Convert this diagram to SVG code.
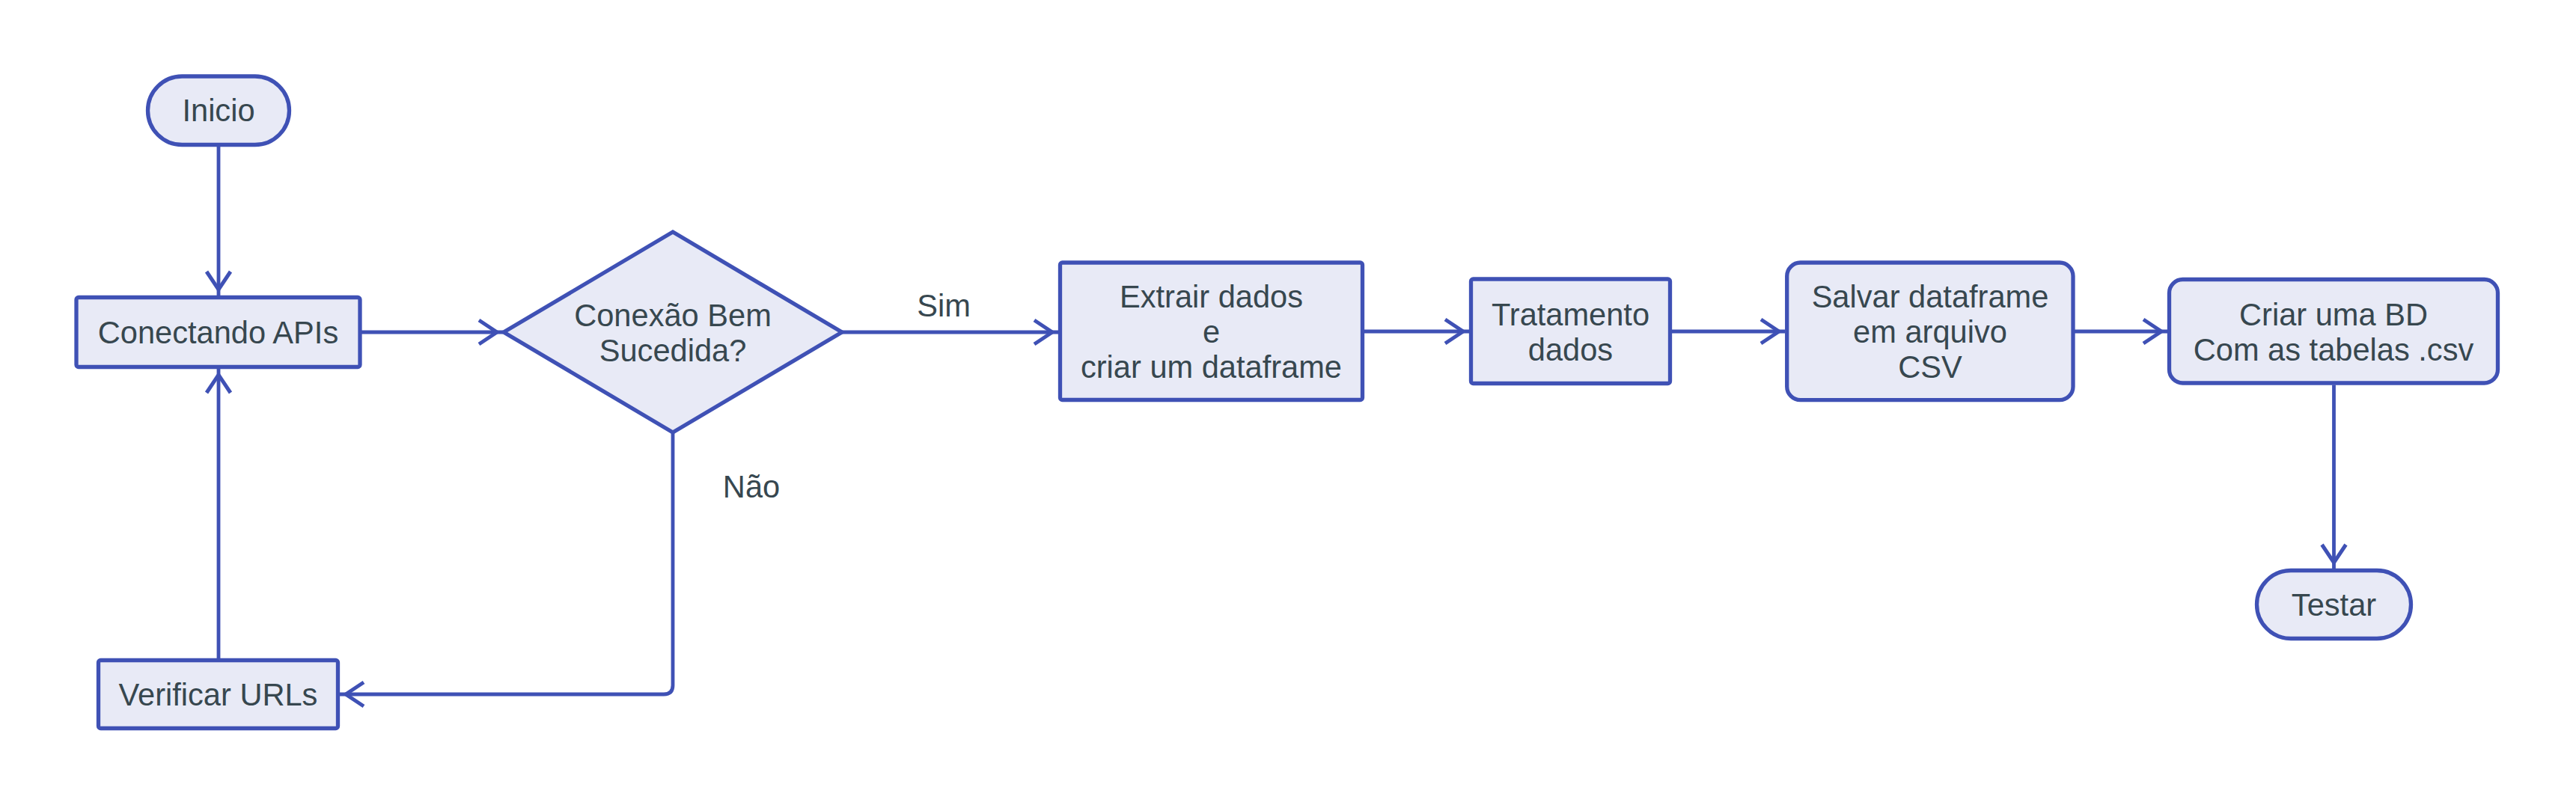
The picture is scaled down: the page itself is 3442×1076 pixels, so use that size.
<svg xmlns="http://www.w3.org/2000/svg" width="3442" height="1076" viewBox="0 0 3442 1076">
<style>
.node{fill:#e8eaf6;stroke:#3f51b5;stroke-width:5.3}
.lbl{font-family:"Liberation Sans",Arial,sans-serif;font-size:41.6px;fill:#37474f;text-anchor:middle}
.edge{fill:none;stroke:#3f51b5;stroke-width:4.8}
</style>
<defs>
<marker id="arr" markerUnits="userSpaceOnUse" markerWidth="44" markerHeight="44" viewBox="-4 -6 44 44" refX="32" refY="16" orient="auto" overflow="visible">
<path d="M0,0 L24,16 L0,32" fill="none" stroke="#3f51b5" stroke-width="5"/>
</marker>
</defs>
<rect width="3442" height="1076" fill="#ffffff"/>
<g id="connectors">
<path class="edge" d="M292,193.5 L292,395" marker-end="url(#arr)"/>
<path class="edge" d="M481,444 L672,444" marker-end="url(#arr)"/>
<path class="edge" d="M1125,444 L1414,444" marker-end="url(#arr)"/>
<path class="edge" d="M899,578 L899,916 Q899,928 887,928 L454,928" marker-end="url(#arr)"/>
<path class="edge" d="M292,880 L292,493" marker-end="url(#arr)"/>
<path class="edge" d="M1823,443 L1963,443" marker-end="url(#arr)"/>
<path class="edge" d="M2234,443 L2385,443" marker-end="url(#arr)"/>
<path class="edge" d="M2772,443 L2896,443" marker-end="url(#arr)"/>
<path class="edge" d="M3118.5,514.5 L3118.5,760" marker-end="url(#arr)"/>
<text class="lbl" x="1261" y="423">Sim</text>
<text class="lbl" x="1004" y="665">Não</text>
</g>
<g id="inicio">
<rect class="node" x="197.5" y="102" width="189" height="91.5" rx="45.75" ry="45.75"/>
<text class="lbl" x="292" y="162">Inicio</text>
</g>
<g id="conectando">
<rect class="node" x="102" y="397.5" width="379" height="93" rx="3"/>
<text class="lbl" x="291.5" y="459">Conectando APIs</text>
</g>
<g id="conexao">
<polygon class="node" points="899,310 1125,444 899,578 673,444"/>
<text class="lbl" x="899" y="435.5">Conexão Bem</text>
<text class="lbl" x="899" y="482.5">Sucedida?</text>
</g>
<g id="verificar">
<rect class="node" x="131.5" y="882.5" width="320" height="91" rx="3"/>
<text class="lbl" x="291.5" y="943">Verificar URLs</text>
</g>
<g id="extrair">
<rect class="node" x="1416.5" y="351" width="404" height="183.5" rx="3"/>
<text class="lbl" x="1618.5" y="411">Extrair dados</text>
<text class="lbl" x="1618.5" y="458">e</text>
<text class="lbl" x="1618.5" y="505">criar um dataframe</text>
</g>
<g id="tratamento">
<rect class="node" x="1965.5" y="373" width="266" height="139.5" rx="3"/>
<text class="lbl" x="2098.5" y="434.5">Tratamento</text>
<text class="lbl" x="2098.5" y="481.5">dados</text>
</g>
<g id="salvar">
<rect class="node" x="2387.7" y="351" width="382.3" height="183.7" rx="18"/>
<text class="lbl" x="2579" y="411">Salvar dataframe</text>
<text class="lbl" x="2579" y="458">em arquivo</text>
<text class="lbl" x="2579" y="505">CSV</text>
</g>
<g id="criar">
<rect class="node" x="2898.5" y="373.5" width="439" height="138.5" rx="18"/>
<text class="lbl" x="3118" y="434.5">Criar uma BD</text>
<text class="lbl" x="3118" y="481.5">Com as tabelas .csv</text>
</g>
<g id="testar">
<rect class="node" x="3015.5" y="762.5" width="206" height="91" rx="45.5" ry="45.5"/>
<text class="lbl" x="3118.5" y="823">Testar</text>
</g>
</svg>
